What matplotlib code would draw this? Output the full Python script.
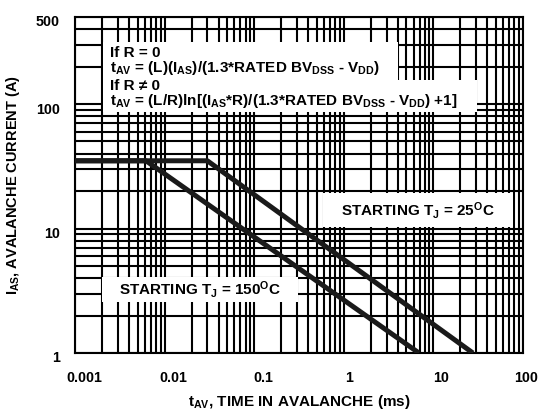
import matplotlib
matplotlib.use("Agg")
import matplotlib.pyplot as plt
import matplotlib.transforms as mtransforms
from matplotlib.patches import Rectangle

# curve data
t_25c = [0.001, 0.030, 27.6]
i_25c = [35, 35, 1]
t_150c = [0.001, 0.0062, 6.9]
i_150c = [35, 35, 1]

x_ticks = [0.001, 0.01, 0.1, 1, 10, 100]
x_tick_labels = ["0.001", "0.01", "0.1", "1", "10", "100"]
y_ticks = [1, 10, 100, 500]
y_tick_labels = ["1", "10", "100", "500"]

plt.rcParams['font.family'] = ['Liberation Sans', 'DejaVu Sans']
plt.rcParams['font.weight'] = 'bold'
plt.rcParams['mathtext.fontset'] = 'custom'
plt.rcParams['mathtext.rm'] = 'Liberation Sans:bold'
plt.rcParams['mathtext.it'] = 'Liberation Sans:bold'
plt.rcParams['mathtext.bf'] = 'Liberation Sans:bold'

fig = plt.figure(figsize=(5.41, 4.18), dpi=100)
ax = fig.add_axes([75 / 541, 1 - 353 / 418, 448 / 541, 336 / 418])

ax.set_xscale('log')
ax.set_yscale('log')
ax.set_xlim(0.001, 100)
ax.set_ylim(1, 500)

ax.set_axisbelow(True)
ax.grid(True, which='both', color='black', lw=1.5)
for s in ax.spines.values():
    s.set_linewidth(1.5)

ax.plot(t_25c, i_25c, color='#1a1a1a', lw=3.6, solid_capstyle='butt', zorder=5)
ax.plot(t_150c, i_150c, color='#1a1a1a', lw=3.6, solid_capstyle='butt', zorder=5)

ax.set_xticks(x_ticks)
ax.set_xticklabels(x_tick_labels)
ax.set_yticks(y_ticks)
ax.set_yticklabels(y_tick_labels)
ax.minorticks_on()
ax.tick_params(which='both', length=0)
ax.tick_params(axis='x', pad=13, labelsize=10.3)
ax.tick_params(axis='y', pad=11, labelsize=10.3)
ax.yaxis.set_minor_formatter(plt.NullFormatter())
ax.xaxis.set_minor_formatter(plt.NullFormatter())

# datasheet labels sit a bit off their gridlines
x_shift = [9, 9, 9, 5, 8, 3]
for lab, dx in zip(ax.get_xticklabels(), x_shift):
    lab.set_transform(lab.get_transform() + mtransforms.ScaledTranslation(dx / 100, 0, fig.dpi_scale_trans))
for lab in ax.get_yticklabels():
    lab.set_transform(lab.get_transform() + mtransforms.ScaledTranslation(0, -4 / 100, fig.dpi_scale_trans))

ax.set_xlabel("t$_{AV}$, TIME IN AVALANCHE (ms)", fontsize=11, fontweight='bold', labelpad=6)
ax.set_ylabel("I$_{AS}$, AVALANCHE CURRENT (A)", fontsize=10.5, fontweight='bold', labelpad=10)

# white panels that blank the grid behind the notes
for x0, y0, w, h in [(0.0625, 0.8125, 0.6585, 0.113),
                     (0.0625, 0.717, 0.8345, 0.0955),
                     (0.5536, 0.375, 0.4241, 0.101),
                     (0.060, 0.152, 0.438, 0.074)]:
    ax.add_patch(Rectangle((x0, y0), w, h, transform=ax.transAxes,
                           facecolor='white', edgecolor='none', zorder=4))

notes = ["If R = 0",
         "t$_{AV}$ = (L)(I$_{AS}$)/(1.3*RATED BV$_{DSS}$ - V$_{DD}$)",
         "If R \u2260 0",
         "t$_{AV}$ = (L/R)ln[(I$_{AS}$*R)/(1.3*RATED BV$_{DSS}$ - V$_{DD}$) +1]"]
for txt, yb in zip(notes, [0.881, 0.836, 0.783, 0.738]):
    ax.text(0.078, yb, txt, transform=ax.transAxes, fontsize=11, fontweight='bold',
            va='baseline', ha='left', zorder=6)

ax.text(0.7656, 0.425, "STARTING T$_{J}$ = 25$^{O}$C", transform=ax.transAxes,
        fontsize=11, fontweight='bold', ha='center', va='center', zorder=6)
ax.text(0.279, 0.188, "STARTING T$_{J}$ = 150$^{O}$C", transform=ax.transAxes,
        fontsize=11, fontweight='bold', ha='center', va='center', zorder=6)

fig.savefig("out.png", dpi=100)
